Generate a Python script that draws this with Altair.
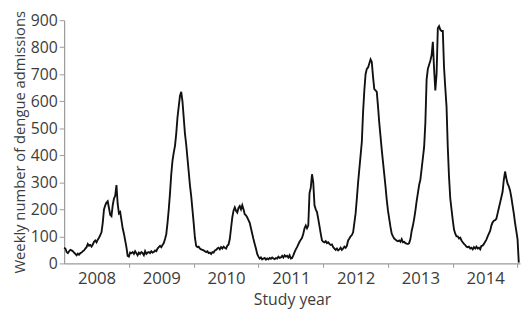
import altair as alt
import pandas as pd

# Weekly dengue admissions, by study year (52 weeks each)
y2008 = [58, 55, 42, 38, 45, 50, 48, 45, 40, 35,
         30, 36, 32, 38, 40, 45, 48, 55, 60, 72,
         65, 68, 62, 70, 80, 85, 78, 88, 95, 105,
         115, 150, 200, 215, 225, 230, 205, 180, 175, 215,
         240, 250, 290, 220, 185, 190, 160, 130, 110, 85,
         60, 28]
y2009 = [25, 40, 38, 42, 35, 45, 38, 30, 40, 35,
         42, 38, 30, 45, 35, 40, 42, 38, 45, 40,
         42, 48, 45, 55, 60, 65, 60, 68, 75, 90,
         108, 150, 200, 260, 330, 380, 410, 435, 480, 540,
         580, 620, 635, 600, 540, 480, 440, 390, 340, 290,
         250, 200]
y2010 = [150, 95, 65, 60, 62, 55, 52, 50, 48, 45,
         42, 45, 38, 40, 35, 42, 40, 48, 50, 55,
         58, 52, 60, 55, 62, 58, 55, 65, 70, 90,
         130, 170, 195, 207, 195, 188, 205, 212, 200, 215,
         200, 182, 178, 170, 160, 150, 130, 110, 90, 72,
         55, 35]
y2011 = [25, 18, 22, 15, 18, 20, 14, 18, 15, 20,
         17, 22, 18, 16, 20, 18, 25, 20, 22, 28,
         22, 30, 25, 28, 22, 30, 18, 20, 30, 42,
         52, 60, 70, 80, 88, 95, 110, 130, 140, 130,
         140, 260, 280, 330, 300, 215, 200, 190, 165, 138,
         110, 85]
y2012 = [80, 78, 82, 75, 78, 72, 68, 70, 60, 55,
         50, 55, 48, 52, 58, 50, 55, 62, 58, 65,
         85, 92, 100, 105, 115, 150, 185, 240, 300, 350,
         400, 450, 560, 640, 700, 720, 725, 740, 755, 745,
         690, 645, 640, 635, 580, 520, 470, 420, 375, 330,
         285, 235]
y2013 = [195, 165, 135, 110, 100, 92, 88, 84, 82, 85,
         80, 90, 78, 80, 75, 73, 72, 75, 90, 120,
         140, 165, 195, 230, 260, 290, 310, 350, 390, 430,
         520, 680, 720, 735, 750, 770, 820, 720, 640, 700,
         870, 878, 865, 860, 860, 725, 650, 580, 430, 320,
         240, 200]
y2014 = [160, 125, 110, 100, 100, 92, 95, 85, 78, 72,
         68, 62, 60, 62, 55, 58, 52, 60, 55, 62,
         55, 58, 52, 65, 66, 72, 80, 88, 100, 110,
         120, 140, 152, 158, 160, 165, 185, 205, 225, 245,
         265, 310, 340, 315, 295, 285, 270, 245, 215, 185,
         150, 120]
y_tail = [90, 3]

year_labels = ["2008", "2009", "2010", "2011", "2012", "2013", "2014"]
y_ticks = [0, 100, 200, 300, 400, 500, 600, 700, 800, 900]

values = y2008 + y2009 + y2010 + y2011 + y2012 + y2013 + y2014 + y_tail
df = pd.DataFrame({"week": list(range(len(values))), "admissions": values})

boundaries = [52 * (i + 1) for i in range(len(year_labels))]
mids = [52 * i + 26 for i in range(len(year_labels))]
x_values = sorted(boundaries + mids)

FONT = "Open Sans"
TXT = "#3c3c3c"
AX = "#9a9a9a"

chart = alt.Chart(df).mark_line(color="#111111", strokeWidth=1.9).encode(
    x=alt.X("week:Q",
            scale=alt.Scale(domain=[0, 366], nice=False, zero=False),
            axis=alt.Axis(values=x_values,
                          labelExpr="datum.value % 52 === 0 ? '' : '' + (2008 + floor(datum.value / 52))",
                          tickOpacity={"condition": {"test": "datum.value % 52 === 0", "value": 1}, "value": 0},
                          labelOverlap=False, labelFlush=False,
                          title="Study year", grid=False,
                          tickSize=4, tickColor=AX, domainColor=AX, domainWidth=1.2,
                          labelFont=FONT, labelFontSize=17, labelColor=TXT, labelPadding=3,
                          titleFont=FONT, titleFontSize=16, titleFontWeight="normal",
                          titleColor=TXT, titlePadding=6)),
    y=alt.Y("admissions:Q",
            scale=alt.Scale(domain=[0, 900], nice=False),
            axis=alt.Axis(values=y_ticks, title="Weekly number of dengue admissions",
                          grid=False, tickSize=5, tickColor=AX, domainColor=AX, domainWidth=1.2,
                          labelFont=FONT, labelFontSize=16, labelColor=TXT, labelPadding=2,
                          titleFont=FONT, titleFontSize=15, titleFontWeight="normal",
                          titleColor=TXT, titlePadding=3)),
).properties(
    width=463, height=247,
    autosize=alt.AutoSizeParams(type="none"),
    padding={"left": 57, "top": 10, "right": 2, "bottom": 48},
).configure_view(stroke=None)

chart.save("out.html", embed_options={"renderer": "svg", "actions": False})
